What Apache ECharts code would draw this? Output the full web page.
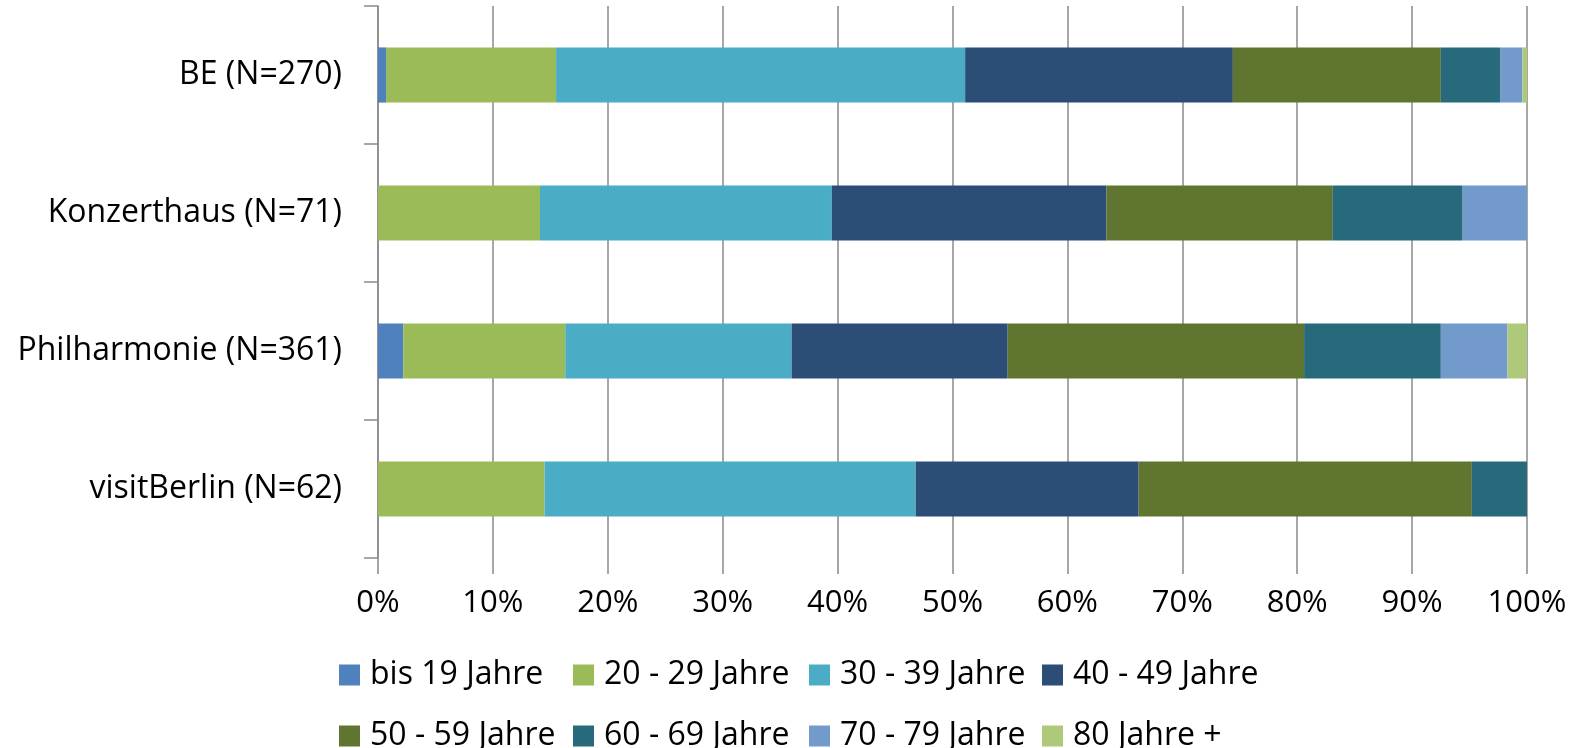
<!DOCTYPE html>
<html>
<head>
<meta charset="utf-8">
<script src="https://cdn.jsdelivr.net/npm/echarts@6/dist/echarts.min.js"></script>
<style>
  html, body { margin: 0; padding: 0; background: #fff; }
  #chart { width: 1579px; height: 748px; }
</style>
</head>
<body>
<div id="chart"></div>
<script>
var categories = ['BE (N=270)', 'Konzerthaus (N=71)', 'Philharmonie (N=361)', 'visitBerlin (N=62)']
var ageGroups = ['bis 19 Jahre', '20 - 29 Jahre', '30 - 39 Jahre', '40 - 49 Jahre',
                 '50 - 59 Jahre', '60 - 69 Jahre', '70 - 79 Jahre', '80 Jahre +']
var colors = ['#4F81BD', '#9BBB59', '#4BACC6', '#2C4D75', '#5F7530', '#276A7C', '#729ACA', '#AFC97A']

// share in percent, one array per row
var beValues = [0.7, 14.8, 35.6, 23.3, 18.1, 5.2, 1.9, 0.4]
var konzerthausValues = [0, 14.1, 25.4, 23.9, 19.7, 11.3, 5.6, 0]
var philharmonieValues = [2.2, 14.1, 19.7, 18.8, 25.8, 11.9, 5.8, 1.7]
var visitBerlinValues = [0, 14.5, 32.3, 19.4, 29.0, 4.8, 0, 0]

var rows = [beValues, konzerthausValues, philharmonieValues, visitBerlinValues]
var fontFamily = 'Open Sans'
var gray = '#8a8a8a'

var myChart = echarts.init(document.getElementById('chart'))

var series = ageGroups.map(function (name, i) {
  return {
    name: name,
    type: 'bar',
    stack: 'total',
    barCategoryGap: '60%',
    itemStyle: { color: colors[i] },
    emphasis: { disabled: true },
    data: rows.map(function (r) { return r[i] })
  }
})

// legend laid out as a 4 x 2 table, one legend per cell so the columns line up
var legendCols = [339, 573, 809, 1042]
var legendRows = [659, 720]
var legends = ageGroups.map(function (name, i) {
  return {
    data: [name],
    left: legendCols[i % 4],
    top: legendRows[Math.floor(i / 4)],
    padding: 0,
    itemWidth: 21,
    itemHeight: 21,
    icon: 'rect',
    selectedMode: false,
    textStyle: {
      fontFamily: fontFamily,
      fontSize: 32,
      color: '#000',
      padding: [0, 0, 0, 5]
    }
  }
})

var option = {
  animation: false,
  grid: { left: 378, right: 52, top: 6, height: 552, containLabel: false },
  legend: legends,
  xAxis: {
    type: 'value',
    min: 0,
    max: 100,
    interval: 10,
    axisLine: { show: false },
    axisTick: { show: true, length: 16, lineStyle: { color: gray, width: 1.5 } },
    splitLine: { show: true, lineStyle: { color: gray, width: 1.5 } },
    axisLabel: {
      formatter: '{value}%',
      fontFamily: fontFamily,
      fontSize: 31,
      color: '#000',
      margin: 30
    }
  },
  yAxis: {
    type: 'category',
    inverse: true,
    data: categories,
    axisLine: { show: true, lineStyle: { color: gray, width: 1.5 } },
    axisTick: { show: true, length: 14, lineStyle: { color: gray, width: 1.5 } },
    axisLabel: {
      fontFamily: fontFamily,
      fontSize: 32,
      color: '#000',
      margin: 36
    }
  },
  series: series
}

myChart.setOption(option)
</script>
</body>
</html>
